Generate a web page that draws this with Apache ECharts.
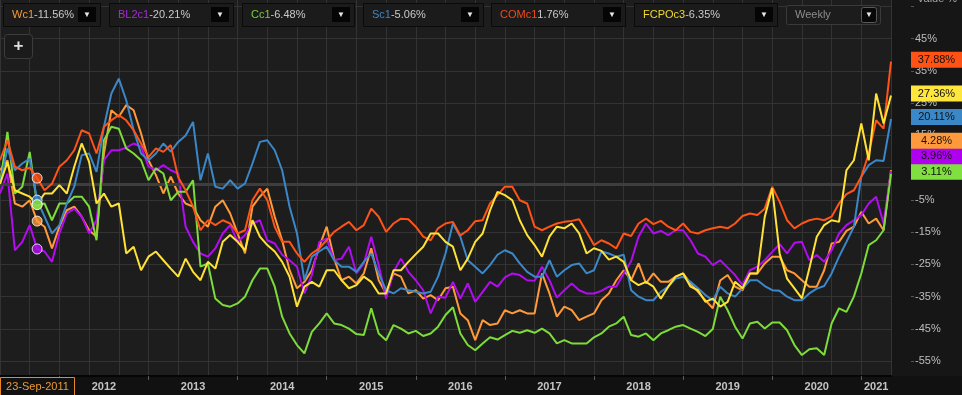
<!DOCTYPE html>
<html><head><meta charset="utf-8">
<script src="https://cdn.jsdelivr.net/npm/echarts@6/dist/echarts.min.js"></script>
<style>html,body{margin:0;padding:0;background:#1d1d1d;}#c{width:962px;height:395px;}</style>
</head><body><div id="c"></div>
<script>
// ---------- data ----------
const tickers = ['Wc1', 'BL2c1', 'Cc1', 'Sc1', 'COMc1', 'FCPOc3'];
const startMonth = 4;          // months since Jan 2011 -> first sample = May 2011, monthly samples
const cursorIndex = 5;         // sample nearest the cursor date
const cursorLabel = '23-Sep-2011';
const intervalLabel = 'Weekly';
const yearLabels = ['2012','2013','2014','2015','2016','2017','2018','2019','2020','2021'];
const yTickValues = [-55,-45,-35,-25,-15,-5,5,15,25,35,45];

const wc1 = [4.2,7.3,-6.1,-7.1,-5.1,-11.56,-13.3,-20.0,-13.3,-8.2,-7.1,-10.2,-14.4,-16.4,9.4,22.8,20.8,24.4,22.8,15.6,
 7.3,2.7,-3.0,2.2,-3.0,-6.1,-7.1,-11.3,-13.3,-7.1,-5.1,-9.2,-15.4,-21.6,-7.1,-4.0,-1.5,-10.2,-17.5,-26.8,
 -32.4,-30.4,-26.8,-19.5,-13.3,-23.2,-29.9,-28.8,-30.9,-27.8,-20.0,-29.9,-34.0,-27.8,-28.8,-34.0,-33.0,-35.6,-34.5,-36.1,
 -32.4,-31.9,-40.2,-42.3,-48.5,-42.3,-43.8,-43.3,-39.2,-40.2,-39.2,-40.2,-40.2,-27.8,-34.0,-41.2,-38.1,-39.2,-42.3,-41.2,
 -40.2,-36.1,-34.0,-29.9,-26.8,-29.9,-24.7,-30.9,-27.8,-30.4,-30.4,-28.8,-27.8,-30.9,-33.5,-36.1,-38.6,-30.0,-28.3,-31.9,
 -33.0,-27.8,-27.8,-24.7,-22.6,-22.6,-26.8,-27.8,-29.9,-31.9,-31.9,-26.8,-18.5,-18.0,-14.6,-13.3,-8.7,-12.3,-10.8,-14.4,4.28];
const bl2c1 = [-3.0,3.2,-20.6,-18.0,-12.8,-20.21,-21.0,-24.2,-15.4,-9.2,-7.7,-10.2,-15.4,-11.3,7.3,10.4,10.4,11.2,12.5,11.5,
 5.3,4.2,5.8,4.2,3.2,-13.3,-18.0,-21.6,-22.6,-20.0,-15.4,-12.8,-18.0,-15.9,-12.3,-11.3,-17.5,-18.5,-22.0,-23.7,
 -25.7,-34.0,-28.3,-18.0,-17.0,-23.7,-23.2,-19.5,-27.8,-24.7,-16.4,-25.2,-35.6,-27.3,-23.2,-27.3,-29.9,-33.0,-40.2,-35.0,
 -35.3,-30.4,-35.6,-30.9,-36.6,-33.5,-30.4,-31.9,-29.0,-27.8,-28.3,-29.9,-30.1,-25.7,-29.9,-35.3,-33.0,-30.9,-33.0,-34.0,
 -34.0,-33.2,-31.9,-31.9,-27.8,-24.0,-16.4,-12.3,-15.4,-14.6,-15.9,-14.4,-14.4,-17.5,-21.6,-22.6,-25.2,-23.7,-26.0,-28.3,
 -31.4,-26.8,-25.7,-23.7,-21.1,-18.7,-21.6,-18.3,-18.0,-23.7,-22.1,-24.2,-20.6,-15.4,-12.8,-11.3,-9.7,-6.1,-4.0,-12.3,3.96];
const cc1 = [0.0,16.1,-3.0,-0.9,9.9,-6.48,-6.1,-11.3,-6.1,-6.1,-4.0,-4.0,-7.1,-17.5,13.5,17.7,17.1,11.0,9.4,7.3,
 1.1,4.8,3.2,-5.1,-2.5,-2.5,1.1,-25.7,-24.7,-35.6,-37.6,-38.1,-37.1,-35.0,-29.9,-26.3,-26.3,-31.9,-41.2,-46.4,
 -50.0,-52.6,-45.9,-43.3,-40.2,-43.3,-43.8,-44.9,-46.6,-46.9,-38.6,-46.4,-48.5,-43.8,-44.9,-46.4,-45.6,-47.2,-46.4,-44.3,
 -40.7,-38.3,-46.4,-50.0,-51.6,-49.5,-47.6,-48.3,-46.9,-45.6,-46.2,-45.4,-46.2,-44.9,-46.4,-49.5,-48.5,-49.5,-49.5,-49.5,
 -47.6,-46.4,-44.3,-43.3,-41.2,-46.9,-47.4,-46.4,-48.5,-46.4,-45.4,-44.3,-43.8,-44.9,-45.9,-47.2,-45.0,-35.0,-39.2,-44.3,
 -48.0,-43.3,-42.8,-44.9,-43.0,-43.0,-45.4,-50.0,-53.1,-51.3,-51.0,-53.1,-43.3,-38.6,-39.7,-35.0,-27.8,-19.0,-17.5,-14.4,3.11];
const sc1 = [0.0,11.0,4.2,6.3,7.8,-5.06,-10.2,-15.4,-12.8,-6.1,-0.9,8.9,9.4,3.7,17.7,28.0,32.6,25.9,16.6,9.4,
 7.3,9.4,12.5,10.0,13.0,15.0,19.2,1.1,9.4,-0.9,-1.5,1.1,-1.5,0.1,6.3,13.0,13.5,10.4,4.2,-7.1,
 -15.4,-29.9,-22.6,-21.0,-19.5,-23.7,-25.7,-25.7,-27.3,-24.2,-21.6,-27.8,-33.0,-34.0,-32.4,-33.0,-33.5,-34.0,-33.5,-28.8,
 -21.6,-12.3,-16.4,-23.7,-25.7,-27.8,-25.2,-22.0,-20.6,-21.6,-24.7,-27.3,-28.8,-28.8,-23.7,-28.8,-26.8,-25.2,-24.7,-27.8,
 -26.8,-21.0,-21.6,-22.6,-22.0,-33.0,-35.0,-36.1,-36.1,-33.5,-31.9,-29.4,-28.8,-30.4,-32.4,-34.5,-36.1,-31.9,-34.0,-35.0,
 -32.5,-29.9,-29.9,-31.7,-33.0,-33.2,-35.0,-36.1,-36.1,-34.0,-32.5,-31.7,-27.8,-22.6,-18.0,-13.3,2.2,5.8,7.3,7.1,20.11];
const comc1 = [7.3,13.5,5.3,4.2,5.0,1.76,-2.0,0.0,5.3,7.3,10.4,16.6,15.6,9.4,17.7,19.7,21.3,19.7,16.6,12.5,
 8.3,11.0,9.9,12.0,2.0,-2.0,-7.1,-14.4,-11.3,-12.8,-11.3,-12.3,-15.4,-14.4,-5.1,-1.5,-5.1,-13.3,-18.0,-18.0,
 -21.6,-24.2,-21.6,-20.0,-17.5,-14.9,-13.3,-11.8,-14.4,-12.8,-7.7,-10.2,-14.9,-12.3,-10.8,-11.0,-13.3,-16.4,-17.5,-13.8,
 -12.3,-11.8,-16.0,-14.4,-11.6,-11.3,-6.1,-3.5,-0.9,-0.9,-5.1,-6.1,-13.3,-14.4,-13.3,-12.3,-11.8,-11.5,-11.0,-14.9,
 -19.0,-17.5,-18.5,-20.0,-15.4,-16.2,-12.3,-10.8,-12.5,-11.5,-13.3,-14.4,-12.3,-14.9,-15.4,-14.4,-13.8,-13.3,-13.8,-12.3,
 -10.0,-9.2,-9.7,-7.7,-0.9,-5.6,-11.3,-13.8,-12.3,-11.3,-10.8,-11.3,-10.2,-6.1,-3.2,-2.0,2.2,9.4,19.7,17.1,37.88];
const fcpoc3 = [0.0,6.8,-2.0,-3.0,-4.0,-6.35,-3.0,-3.0,-0.4,-3.0,5.3,12.5,6.8,-6.1,-3.0,-7.1,-6.1,-21.6,-19.5,-26.8,
 -22.6,-21.0,-23.7,-26.3,-28.8,-23.2,-27.3,-29.9,-24.2,-26.3,-18.0,-15.9,-18.0,-20.6,-11.3,-16.4,-19.0,-21.0,-24.2,-28.8,
 -38.1,-31.9,-30.4,-31.9,-26.8,-26.8,-29.9,-32.4,-31.4,-28.8,-30.4,-34.0,-34.0,-26.8,-26.8,-24.2,-21.8,-19.5,-15.4,-15.4,
 -18.0,-19.5,-26.8,-23.2,-18.0,-15.4,-8.2,-2.5,-3.5,-5.1,-11.3,-15.9,-19.0,-22.6,-16.4,-13.3,-13.8,-12.3,-15.4,-21.6,
 -20.0,-20.8,-23.5,-22.6,-24.2,-29.9,-31.4,-30.4,-31.9,-35.6,-31.9,-28.8,-27.8,-31.9,-33.0,-36.6,-35.6,-38.1,-36.6,-30.4,
 -32.4,-27.8,-27.8,-10.2,-1.4,-21.6,-29.4,-32.4,-35.5,-26.3,-16.4,-12.8,-11.3,-11.8,4.2,7.3,18.7,7.3,28.0,18.7,27.36];

const seriesValues = [wc1, bl2c1, cc1, sc1, comc1, fcpoc3];

// ---------- styles ----------
const lineColors  = ['#ff9a3a', '#b30cf0', '#7ddc3a', '#3b87c8', '#ff5418', '#ffe236'];
const boxColors   = ['#ff9a3c', '#b000f0', '#80e040', '#3a88c8', '#ff5214', '#ffe63c'];
const tickerColors= ['#f39a38', '#a82ad8', '#76d03a', '#3f86c6', '#f24a16', '#f0da2e'];
const FONT = '"Liberation Sans", Arial, sans-serif';

const chart = echarts.init(document.getElementById('c'), null, {renderer: 'canvas', width: 962, height: 395});
const fmt = v => v.toFixed(2) + '%';

const yearStarts = yearLabels.map((_, k) => 12 * (k + 1));
const yearMids = yearLabels.map((_, k) => k < yearLabels.length - 1 ? 12 * (k + 1) + 6 : 12 * (k + 1) + 2);
const xMax = startMonth + wc1.length - 1;

const lineSeries = tickers.map((t, k) => ({
  name: t, type: 'line', xAxisIndex: 0, yAxisIndex: 0,
  data: seriesValues[k].map((v, i) => [startMonth + i, v]),
  showSymbol: false, symbol: 'none', silent: true, z: 3 + k,
  lineStyle: {color: lineColors[k], width: 2}, itemStyle: {color: lineColors[k]}
}));

const markerOrder = [5, 0, 1, 3, 2, 4];
const option = {
  backgroundColor: '#1d1d1d',
  animation: false,
  textStyle: {fontFamily: FONT},
  grid: {left: 0, right: 71, top: 0, bottom: 19, containLabel: false},
  xAxis: [
    {type: 'value', position: 'bottom', min: startMonth, max: xMax, interval: 4,
     axisLine: {show: false}, axisTick: {show: false}, axisLabel: {show: false},
     splitLine: {show: true, lineStyle: {color: '#333333', width: 1}}},
    {type: 'value', position: 'bottom', min: startMonth, max: xMax,
     axisLine: {show: true, lineStyle: {color: '#050505', width: 2}},
     axisTick: {show: true, customValues: yearStarts, length: 4, lineStyle: {color: '#5a5a5a'}},
     axisLabel: {show: true, customValues: yearMids, margin: 5, color: '#c4c4c4', fontSize: 11, fontWeight: 'bold',
       fontFamily: FONT, formatter: v => yearLabels[yearMids.indexOf(v)] || ''},
     splitLine: {show: false}}
  ],
  yAxis: {
    type: 'value', position: 'right', min: -59.6, max: 57, offset: 20,
    axisLine: {show: false},
    axisTick: {show: true, customValues: yTickValues.concat([55]), length: 3, lineStyle: {color: '#555'}},
    axisLabel: {show: true, customValues: yTickValues, margin: 4, color: '#bdbdbd', fontSize: 11, fontFamily: FONT,
      formatter: v => v + '%'},
    splitLine: {show: true, lineStyle: {color: '#333333', width: 1}}
  },
  series: [
    {type: 'line', name: 'zero', data: [[startMonth, 0]], showSymbol: false, silent: true, z: 1,
     lineStyle: {opacity: 0},
     markLine: {silent: true, symbol: 'none', label: {show: false}, animation: false,
       lineStyle: {color: '#3e3e3e', width: 3, type: 'solid'}, data: [{yAxis: 0}]}}
  ].concat(lineSeries).concat([{
    type: 'scatter', name: 'cursor', silent: true, z: 20, symbolSize: 10,
    itemStyle: {borderColor: '#ffffff', borderWidth: 1},
    data: markerOrder.map(k => ({value: [startMonth + cursorIndex, seriesValues[k][cursorIndex]], itemStyle: {color: lineColors[k]}}))
  }])
};
chart.setOption(option);

// ---------- overlay UI (legend boxes, end labels) ----------
const g = [];
g.push({type: 'rect', silent: true, z: -5, shape: {x: 891, y: 0, width: 71, height: 376}, style: {fill: '#161616'}});
g.push({type: 'rect', silent: true, z: -5, shape: {x: 0, y: 376, width: 962, height: 19}, style: {fill: '#111111'}});
g.push({type: 'text', silent: true, z: 10, style: {x: 917, y: -7, text: 'Value %', fill: '#a8a8a8', font: '11px ' + FONT}});

const legendBoxes = [[3, 97], [109, 124], [242, 112], [363, 120], [491, 134], [634, 143]];
tickers.forEach((t, k) => {
  const [bx, bw] = legendBoxes[k];
  g.push({type: 'rect', silent: true, z: 30, shape: {x: bx + 0.5, y: 3.5, width: bw, height: 23},
    style: {fill: '#1b1b1b', stroke: '#0a0a0a', lineWidth: 1}});
  g.push({type: 'text', silent: true, z: 31, style: {
    x: bx + 9, y: 15, verticalAlign: 'middle',
    text: '{t|' + t + '}{v|' + fmt(seriesValues[k][cursorIndex]) + '}',
    rich: {t: {fill: tickerColors[k], fontSize: 11, fontFamily: FONT},
           v: {fill: '#c9c9c9', fontSize: 11, fontFamily: FONT}}}});
  const btx = bx + bw - 22;
  g.push({type: 'rect', silent: true, z: 31, shape: {x: btx, y: 7, width: 18, height: 15}, style: {fill: '#050505'}});
  g.push({type: 'text', silent: true, z: 32, style: {x: btx + 9, y: 14.5, text: '▼', align: 'center', verticalAlign: 'middle', fill: '#e6e6e6', font: '8px ' + FONT}});
});
// interval selector
g.push({type: 'rect', silent: true, z: 30, shape: {x: 786.5, y: 5.5, width: 94, height: 19, r: 2}, style: {fill: '#1c1c1c', stroke: '#3a3a3a', lineWidth: 1}});
g.push({type: 'text', silent: true, z: 31, style: {x: 795, y: 15, text: intervalLabel, verticalAlign: 'middle', fill: '#8c8c8c', font: '11px ' + FONT}});
g.push({type: 'rect', silent: true, z: 31, shape: {x: 861.5, y: 7.5, width: 15, height: 15, r: 2}, style: {fill: '#080808', stroke: '#5a5a5a', lineWidth: 1}});
g.push({type: 'text', silent: true, z: 32, style: {x: 869, y: 15, text: '▼', align: 'center', verticalAlign: 'middle', fill: '#e6e6e6', font: '8px ' + FONT}});
// plus button
g.push({type: 'rect', silent: true, z: 30, shape: {x: 4.5, y: 34.5, width: 28, height: 24, r: 3}, style: {fill: '#1b1b1b', stroke: '#3c3c3c', lineWidth: 1}});
g.push({type: 'text', silent: true, z: 31, style: {x: 18.5, y: 46.5, text: '+', align: 'center', verticalAlign: 'middle', fill: '#e0e0e0', font: 'bold 17px ' + FONT}});
// cursor date label
g.push({type: 'rect', silent: true, z: 30, shape: {x: 0.5, y: 377.5, width: 74, height: 18}, style: {fill: '#121212', stroke: '#e8862a', lineWidth: 1}});
g.push({type: 'text', silent: true, z: 31, style: {x: 37.5, y: 387, text: cursorLabel, align: 'center', verticalAlign: 'middle', fill: '#eb9a3c', font: '11px ' + FONT}});

// end-value labels, positioned from the y scale and stacked to avoid overlap
const ends = seriesValues.map((arr, k) => ({k, v: arr[arr.length - 1], y: chart.convertToPixel({yAxisIndex: 0}, arr[arr.length - 1])}));
ends.sort((a, b) => b.y - a.y);
const lh = 15.5;
let prev = Infinity;
ends.forEach(e => { e.py = Math.min(e.y, prev - lh); prev = e.py; });
ends.forEach(e => {
  const cy = e.py - 2;
  g.push({type: 'rect', silent: true, z: 40, shape: {x: 911, y: cy - 8, width: 51, height: 16}, style: {fill: boxColors[e.k]}});
  g.push({type: 'text', silent: true, z: 41, style: {x: 936.5, y: cy, text: fmt(e.v), align: 'center', verticalAlign: 'middle', fill: '#111111', font: '11px ' + FONT}});
});
chart.setOption({graphic: {elements: g}});
</script>
</body></html>
